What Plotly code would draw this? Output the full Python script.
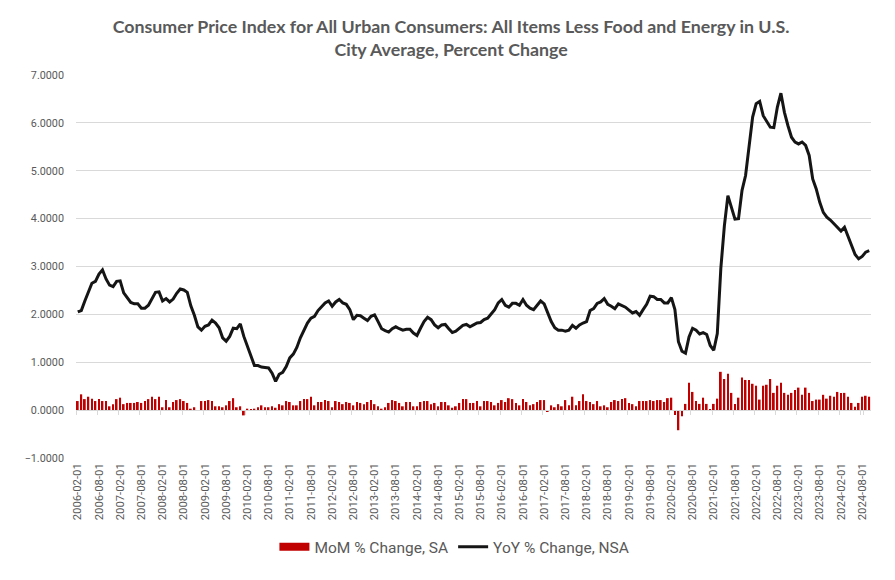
import pandas as pd
import plotly.graph_objects as go

# YoY % change, NSA (monthly, starting 2006-02)
yoy = [
    2.05, 2.08, 2.28, 2.46, 2.65, 2.69, 2.84, 2.93, 2.74, 2.61, 2.58, 2.69,
    2.70, 2.45, 2.35, 2.25, 2.22, 2.22, 2.13, 2.13, 2.19, 2.32, 2.46, 2.47,
    2.28, 2.33, 2.26, 2.32, 2.44, 2.53, 2.51, 2.46, 2.18, 1.98, 1.74, 1.67,
    1.75, 1.78, 1.88, 1.82, 1.72, 1.51, 1.44, 1.54, 1.71, 1.70, 1.80, 1.54,
    1.33, 1.12, 0.93, 0.93, 0.90, 0.89, 0.88, 0.77, 0.60, 0.75, 0.79, 0.91,
    1.09, 1.17, 1.31, 1.51, 1.65, 1.82, 1.92, 1.96, 2.08, 2.17, 2.24, 2.28,
    2.17, 2.26, 2.31, 2.24, 2.21, 2.10, 1.89, 1.98, 1.97, 1.92, 1.87, 1.96,
    1.99, 1.85, 1.70, 1.66, 1.63, 1.70, 1.74, 1.70, 1.67, 1.69, 1.69, 1.61,
    1.56, 1.71, 1.85, 1.94, 1.89, 1.78, 1.72, 1.78, 1.79, 1.70, 1.62, 1.65,
    1.71, 1.77, 1.79, 1.74, 1.78, 1.82, 1.83, 1.89, 1.92, 2.01, 2.10, 2.24,
    2.31, 2.19, 2.15, 2.23, 2.23, 2.19, 2.31, 2.19, 2.13, 2.10, 2.18, 2.28,
    2.22, 2.03, 1.85, 1.72, 1.67, 1.67, 1.65, 1.67, 1.77, 1.71, 1.78, 1.82,
    1.85, 2.08, 2.12, 2.23, 2.26, 2.33, 2.21, 2.17, 2.12, 2.22, 2.18, 2.15,
    2.09, 2.03, 2.06, 1.98, 2.10, 2.21, 2.38, 2.37, 2.31, 2.31, 2.24, 2.24,
    2.35, 2.10, 1.43, 1.23, 1.19, 1.53, 1.71, 1.67, 1.59, 1.62, 1.58, 1.35,
    1.25, 1.60, 2.96, 3.85, 4.48, 4.22, 3.99, 4.00, 4.59, 4.90, 5.56, 6.12,
    6.40, 6.45, 6.15, 6.03, 5.91, 5.90, 6.33, 6.62, 6.22, 5.94, 5.70, 5.60,
    5.56, 5.60, 5.53, 5.32, 4.83, 4.62, 4.34, 4.13, 4.03, 3.97, 3.90, 3.82,
    3.74, 3.82, 3.63, 3.44, 3.25, 3.16, 3.21, 3.30, 3.33,
]

# MoM % change, SA
mom = [
    0.19, 0.33, 0.23, 0.28, 0.24, 0.19, 0.23, 0.19, 0.19, 0.08, 0.125, 0.23,
    0.26, 0.125, 0.15, 0.15, 0.15, 0.17, 0.15, 0.19, 0.23, 0.28, 0.23, 0.28,
    0.06, 0.21, 0.06, 0.17, 0.21, 0.23, 0.19, 0.15, 0.03, 0.06, 0.0, 0.19,
    0.19, 0.21, 0.19, 0.08, 0.08, 0.06, 0.10, 0.19, 0.25, 0.06, 0.08, -0.11,
    0.03, 0.01, 0.03, 0.06, 0.10, 0.06, 0.06, 0.08, 0.05, 0.125, 0.10, 0.19,
    0.17, 0.10, 0.10, 0.19, 0.23, 0.23, 0.28, 0.10, 0.17, 0.17, 0.21, 0.19,
    0.06, 0.19, 0.17, 0.125, 0.17, 0.15, 0.10, 0.17, 0.15, 0.125, 0.17, 0.21,
    0.125, 0.08, 0.03, 0.06, 0.15, 0.21, 0.19, 0.15, 0.08, 0.17, 0.17, 0.08,
    0.08, 0.17, 0.19, 0.19, 0.125, 0.15, 0.08, 0.17, 0.17, 0.10, 0.05, 0.08,
    0.15, 0.23, 0.23, 0.15, 0.15, 0.19, 0.08, 0.19, 0.19, 0.17, 0.10, 0.15,
    0.21, 0.17, 0.25, 0.23, 0.15, 0.10, 0.23, 0.17, 0.10, 0.125, 0.17, 0.21,
    0.21, -0.03, 0.10, 0.06, 0.125, 0.08, 0.21, 0.10, 0.28, 0.10, 0.19, 0.33,
    0.19, 0.17, 0.125, 0.19, 0.08, 0.10, 0.06, 0.17, 0.21, 0.19, 0.23, 0.25,
    0.15, 0.125, 0.08, 0.19, 0.19, 0.19, 0.21, 0.19, 0.21, 0.21, 0.17, 0.25,
    0.26, -0.10, -0.42, -0.13, 0.13, 0.57, 0.38, 0.19, 0.13, 0.26, 0.13, 0.02,
    0.13, 0.24, 0.80, 0.65, 0.76, 0.36, 0.13, 0.26, 0.68, 0.63, 0.63, 0.55,
    0.51, 0.22, 0.51, 0.53, 0.65, 0.36, 0.51, 0.57, 0.36, 0.32, 0.36, 0.42,
    0.47, 0.32, 0.47, 0.36, 0.19, 0.22, 0.22, 0.32, 0.24, 0.30, 0.28, 0.38,
    0.36, 0.36, 0.28, 0.15, 0.07, 0.15, 0.28, 0.30, 0.28,
]

dates = pd.date_range("2006-02-01", periods=len(yoy), freq="MS").strftime("%Y-%m-%d").tolist()
tick_labels = dates[::6]

title_lines = [
    "Consumer Price Index for All Urban Consumers: All Items Less Food and Energy in U.S.",
    "City Average, Percent Change",
]

GREY = "#595959"
GRID = "#d9d9d9"
RED = "#C00000"
FONT = "Roboto"

fig = go.Figure()
fig.add_trace(go.Bar(
    x=dates, y=mom, name="MoM % Change, SA",
    marker=dict(color=RED, line=dict(width=0)),
    xaxis="x", yaxis="y", showlegend=False, legendgroup="mom",
))
# legend swatch for the bars (wide red rectangle, as in the original legend)
fig.add_trace(go.Scatter(
    x=[None], y=[None], name="MoM % Change, SA", mode="lines",
    line=dict(color=RED, width=8), legendgroup="mom",
    xaxis="x", yaxis="y",
))
fig.add_trace(go.Scatter(
    x=dates, y=yoy, name="YoY % Change, NSA", mode="lines",
    line=dict(color="#151515", width=3),
    xaxis="x2", yaxis="y",
))

xr = [-0.5, len(dates) - 0.5]
fig.update_layout(
    width=895, height=580,
    margin=dict(l=76, r=24, t=75, b=122),
    paper_bgcolor="white", plot_bgcolor="white",
    font=dict(family=FONT, color=GREY, size=11),
    bargap=0.5,
    title=dict(
        text="<br>".join("<b>" + t + "</b>" for t in title_lines),
        x=0.504, xanchor="center", xref="container",
        y=1 - 33 / 580, yanchor="middle", yref="container",
        font=dict(family="Lato", size=17.8, color=GREY),
    ),
    xaxis=dict(
        type="category", range=xr,
        tickmode="array", tickvals=tick_labels, ticktext=tick_labels,
        tickangle=-90, ticks="", showgrid=False, showline=False, zeroline=False,
        tickfont=dict(family=FONT, size=11.3, color=GREY),
        ticklabelstandoff=2,
    ),
    xaxis2=dict(
        type="category", range=xr, overlaying="x", anchor="free", position=0.125,
        tickmode="array", tickvals=tick_labels, tickson="boundaries",
        ticks="outside", ticklen=4, tickcolor=GRID, tickwidth=1,
        showticklabels=False, showgrid=False, showline=True, linecolor=GRID, linewidth=1,
        zeroline=False,
    ),
    yaxis=dict(
        range=[-1, 7], dtick=1, tick0=0, tickformat=".4f",
        showgrid=True, gridcolor=GRID, gridwidth=1, zeroline=False, showline=False,
        ticks="", ticklabelstandoff=11,
        tickfont=dict(family=FONT, size=10.8, color=GREY),
    ),
    legend=dict(
        orientation="h", x=0.476, xanchor="center", y=-0.233, yanchor="middle",
        font=dict(family=FONT, size=15.5, color=GREY), itemwidth=30,
        traceorder="normal", tracegroupgap=0,
    ),
    showlegend=True,
)

fig.write_html("out.html")
